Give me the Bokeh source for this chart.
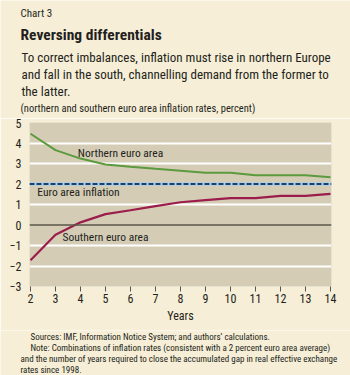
from bokeh.plotting import figure
from bokeh.models import Label, Span, FixedTicker, Range1d
from bokeh.layouts import column
from bokeh.embed import file_html
from bokeh.resources import INLINE

years = [2, 3, 4, 5, 6, 7, 8, 9, 10, 11, 12, 13, 14]
northern = [4.45, 3.65, 3.24, 2.95, 2.84, 2.74, 2.65, 2.55, 2.55, 2.43, 2.43, 2.43, 2.33]
southern = [-1.72, -0.48, 0.13, 0.53, 0.72, 0.92, 1.11, 1.21, 1.31, 1.31, 1.42, 1.42, 1.52]
euro_area_target = 2.0
y_ticks = [-3, -2, -1, 0, 1, 2, 3, 4, 5]
x_ticks = years

FONT = "Roboto Condensed"
BG = "#f6eed6"
PLOT_BG = "#d4ccb5"
TXT = "#231f20"

W = 350
HEAD_H, MAIN_H, FOOT_H = 118, 212, 45
LEFT, RIGHT, TOP, BOTTOM = 29, 19, 4, 44


def text_panel(height):
    f = figure(width=W, height=height, output_backend="svg", toolbar_location=None,
               x_range=Range1d(0, W), y_range=Range1d(0, height),
               x_axis_location=None, y_axis_location=None,
               min_border=0, min_border_left=0, min_border_right=0,
               min_border_top=0, min_border_bottom=0, frame_align=False)
    f.background_fill_color = BG
    f.border_fill_color = BG
    f.outline_line_color = None
    f.xgrid.visible = False
    f.ygrid.visible = False
    return f


def lab(fig, text, x, y, size, style="normal", align="left", color=TXT):
    fig.add_layout(Label(x=x, y=y, x_units="screen", y_units="screen", text=text,
                         text_font=FONT, text_font_size=size, text_font_style=style,
                         text_align=align, text_baseline="middle", text_color=color))


# ---- header ----
head = text_panel(HEAD_H)
def hl(text, x, y, size, style="normal"):
    lab(head, text, x, HEAD_H - y, size, style)

hl("Chart 3", 20, 13, "11px")
hl("Reversing differentials", 20, 34, "15.5px", "bold")
hl("To correct imbalances, inflation must rise in northern Europe", 21, 57, "13px")
hl("and fall in the south, channelling demand from the former to", 21, 74, "13px")
hl("the latter.", 21, 91, "13px")
hl("(northern and southern euro area inflation rates, percent)", 20, 108, "10.5px")

# ---- main chart ----
p = figure(width=W, height=MAIN_H, output_backend="svg", toolbar_location=None,
           x_range=Range1d(1.96, 14.04), y_range=Range1d(-3, 5),
           min_border_left=LEFT, min_border_right=RIGHT, min_border_top=TOP, min_border_bottom=BOTTOM,
           frame_align=False)
p.background_fill_color = PLOT_BG
p.border_fill_color = BG
p.outline_line_color = None

p.xgrid.grid_line_color = None
p.ygrid.grid_line_color = "white"
p.ygrid.grid_line_width = 2
p.ygrid.ticker = FixedTicker(ticks=[-2, -1, 1, 3, 4])

p.xaxis.ticker = FixedTicker(ticks=x_ticks)
p.yaxis.ticker = FixedTicker(ticks=y_ticks)
for ax in (p.xaxis[0], p.yaxis[0]):
    ax.axis_line_color = None
    ax.major_label_text_font = FONT
    ax.major_label_text_font_size = "12px"
    ax.major_label_text_color = TXT
    ax.minor_tick_line_color = None
p.xaxis.major_tick_line_color = "#555555"
p.xaxis.major_tick_out = 5
p.xaxis.major_tick_in = 0
p.xaxis.major_label_standoff = 2
p.xaxis.axis_label = "Years"
p.xaxis.axis_label_text_font = FONT
p.xaxis.axis_label_text_font_size = "12px"
p.xaxis.axis_label_text_font_style = "normal"
p.xaxis.axis_label_text_color = TXT
p.xaxis.axis_label_standoff = 3
p.yaxis.major_tick_line_color = None
p.yaxis.major_tick_out = 0
p.yaxis.major_tick_in = 0
p.yaxis.major_label_standoff = 8

p.add_layout(Span(location=0, dimension="width", line_color="#5b5748", line_width=1.5))
p.add_layout(Span(location=euro_area_target, dimension="width", line_color="#a9d2ea", line_width=3.5))
p.add_layout(Span(location=euro_area_target, dimension="width", line_color="#1d3f6e", line_width=2.2, line_dash="5 2"))

p.line(years, northern, line_color="#5b9a3d", line_width=2)
p.line(years, southern, line_color="#9c1d4b", line_width=2.2)

FRAME_BOTTOM = HEAD_H + MAIN_H - BOTTOM  # page y of the frame bottom
def ml(text, x, y, size):
    lab(p, text, x - LEFT, FRAME_BOTTOM - y, size, align="center")

ml("Northern euro area", 120, 152, "11.5px")
ml("Euro area inflation", 78, 191, "11.5px")
ml("Southern euro area", 105, 236, "11.5px")

# ---- footer ----
foot = text_panel(FOOT_H)
PAGE_H = HEAD_H + MAIN_H + FOOT_H
def fl(text, x, y):
    lab(foot, text, x, PAGE_H - y, "9px")

fl("Sources: IMF, Information Notice System; and authors\u2019 calculations.", 30, 336)
fl("Note: Combinations of inflation rates (consistent with a 2 percent euro area average)", 30, 347.5)
fl("and the number of years required to close the accumulated gap in real effective exchange", 20, 358.5)
fl("rates since 1998.", 20, 369.5)

layout = column(head, p, foot, spacing=0)
open("out.html", "w").write(file_html(layout, INLINE))
